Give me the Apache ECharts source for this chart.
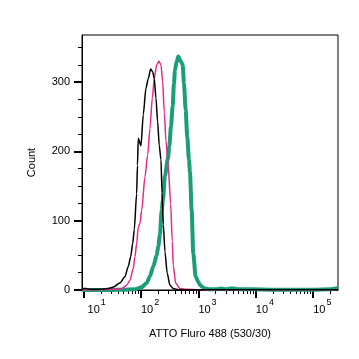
<!DOCTYPE html>
<html>
<head>
<meta charset="utf-8">
<script src="https://cdn.jsdelivr.net/npm/echarts@6/dist/echarts.min.js"></script>
<style>
html,body{margin:0;padding:0;background:#fff;}
#chart{width:359px;height:359px;}
</style>
</head>
<body>
<div id="chart"></div>
<script>
// ---- data ----
var xAxisTitle = 'ATTO Fluro 488 (530/30)';
var yAxisTitle = 'Count';
var xMajorTicks = [10, 100, 1000, 10000, 100000];
var xMinorTicks = [20,30,40,50,60,70,80,90,200,300,400,500,600,700,800,900,
  2000,3000,4000,5000,6000,7000,8000,9000,20000,30000,40000,50000,60000,70000,80000,90000,200000];
var yMajorTicks = [0, 100, 200, 300];
var yMinorTicks = [25,50,75,125,150,175,225,250,275,325,350];

var blackX = [9.4, 10, 11, 13, 19, 26, 32.5, 43, 52.6, 60.1, 66.2, 71.8, 76.4, 84.1, 86.9, 89.7, 100, 109.7, 122, 134, 147.5, 159.9, 170.6, 182.4, 195, 208, 223, 233, 245, 261.8, 286.6, 319.7, 364.8, 450, 1000, 10000, 270000];
var blackY = [1, 2, 2, 1, 1, 2, 4, 10, 19, 34, 48, 67, 87, 139, 180, 219, 208, 253, 291, 305, 319, 315, 305, 277, 243, 209, 188, 140, 95, 55, 24, 7, 2, 0.5, 0.3, 0.3, 0.3];

var pinkX = [9.4, 19.3, 33, 46.1, 56.4, 64.3, 73.4, 78.6, 84.1, 89.7, 96.1, 102.8, 117.4, 130.8, 143.5, 157.4, 170.6, 187.6, 205.7, 222.7, 238.6, 254.5, 272.5, 295, 328.9, 350.8, 365.1, 402, 477.6, 632.5, 1000, 10000, 270000];
var pinkY = [0, 0.5, 1, 2, 7, 14, 31, 48, 67, 91, 96, 115, 163, 195, 233, 277, 305, 325, 330, 325, 301, 257, 215, 185, 125, 70, 35, 10, 2, 1, 0.5, 0.3, 0.3];

var tealX = [9.4, 30, 48.6, 78.6, 102.8, 125.7, 143.5, 163.8, 187.7, 200.1, 214.2, 229.3, 241.6, 261.8, 295.2, 311.1, 333.1, 356.5, 375.4, 390.9, 418.4, 446.2, 491.3, 532.2, 560.7, 600.2, 640.2, 685.3, 713.3, 763.4, 814, 896.6, 994.8, 1065, 1301, 1591, 2000, 2500, 3000, 3600, 4200, 5000, 8000, 20000, 100000, 200000, 240000, 270000];
var tealY = [0, 0, 0.5, 1, 4, 10, 20, 34, 50, 63, 80, 115, 130, 165, 190, 207, 236, 265, 298, 317, 330, 337, 330, 325, 298, 260, 221, 188, 170, 115, 53, 19, 12, 7, 2, 1, 1, 2, 1, 2, 2, 1, 1, 0.5, 0.5, 1, 2, 3];

function pairs(xs, ys) { return xs.map(function (x, i) { return [x, ys[i]]; }); }

var FONT = 'Liberation Sans, Arial, sans-serif';
var X_MIN = 9.4, X_MAX = 270000, Y_MIN = 0, Y_MAX = 368;

var chart = echarts.init(document.getElementById('chart'), null, {renderer: 'canvas'});
chart.setOption({
  animation: false,
  backgroundColor: '#fff',
  grid: {left: 82, right: 21, top: 35, bottom: 69, show: true, borderColor: '#000', borderWidth: 1, containLabel: false},
  xAxis: [{
    type: 'log', logBase: 10, min: X_MIN, max: X_MAX,
    name: xAxisTitle, nameLocation: 'middle', nameGap: 38,
    nameTextStyle: {fontFamily: FONT, fontSize: 11, color: '#000'},
    axisLine: {show: true, lineStyle: {color: '#000', width: 1}},
    axisTick: {show: true, inside: false, length: 8, lineStyle: {color: '#000', width: 2}, customValues: xMajorTicks},
    axisLabel: {
      show: true, margin: 10, align: 'left', color: '#000', fontFamily: FONT,
      customValues: xMajorTicks,
      formatter: function (v) {
        var e = Math.round(Math.log(v) / Math.LN10);
        return (e === 1 ? '{c|10}' : '{b|10}') + '{s|' + e + '}';
      },
      rich: {
        b: {fontFamily: FONT, fontSize: 11, color: '#000', lineHeight: 12, padding: [7, 0, 0, 0]},
        c: {fontFamily: FONT, fontSize: 11, color: '#000', lineHeight: 12, padding: [7, 0, 0, 4]},
        s: {fontFamily: FONT, fontSize: 9, color: '#000', lineHeight: 10, padding: [0, 0, 6, 1]}
      }
    },
    splitLine: {show: false}
  }, {
    type: 'log', logBase: 10, min: X_MIN, max: X_MAX, position: 'bottom',
    axisLine: {show: false},
    axisTick: {show: true, inside: false, length: 4, lineStyle: {color: '#000', width: 1}, customValues: xMinorTicks},
    axisLabel: {show: false},
    splitLine: {show: false}
  }],
  yAxis: [{
    type: 'value', min: Y_MIN, max: Y_MAX, interval: 100,
    name: yAxisTitle, nameLocation: 'middle', nameGap: 45, nameRotate: 90,
    nameTextStyle: {fontFamily: FONT, fontSize: 11, color: '#000'},
    axisLine: {show: true, lineStyle: {color: '#000', width: 1}},
    axisTick: {show: true, length: 8, lineStyle: {color: '#000', width: 2}, customValues: yMajorTicks},
    axisLabel: {show: true, margin: 12, color: '#000', fontFamily: FONT, fontSize: 11,
      customValues: yMajorTicks},
    splitLine: {show: false}
  }, {
    type: 'value', min: Y_MIN, max: Y_MAX, position: 'left',
    axisLine: {show: false},
    axisTick: {show: true, length: 4, lineStyle: {color: '#000', width: 1}, customValues: yMinorTicks},
    axisLabel: {show: false},
    splitLine: {show: false}
  }],
  series: [{
    type: 'line', name: 'teal', data: pairs(tealX, tealY), showSymbol: false, symbol: 'none',
    smooth: 0.25, smoothMonotone: 'x',
    lineStyle: {color: '#1b9e77', width: 4}, z: 2
  }, {
    type: 'line', name: 'pink', data: pairs(pinkX, pinkY), showSymbol: false, symbol: 'none',
    smooth: 0.25, smoothMonotone: 'x',
    lineStyle: {color: '#e7298a', width: 1.5}, z: 3
  }, {
    type: 'line', name: 'black', data: pairs(blackX, blackY), showSymbol: false, symbol: 'none',
    smooth: 0.25, smoothMonotone: 'x',
    lineStyle: {color: '#000', width: 1.5}, z: 4
  }]
});
</script>
</body>
</html>
